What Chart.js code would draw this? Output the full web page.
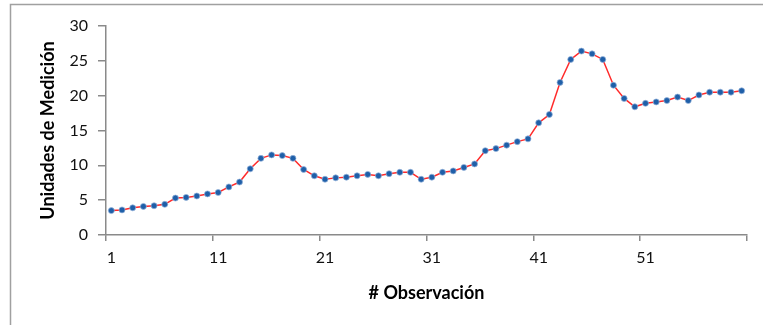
<!DOCTYPE html>
<html>
<head>
<meta charset="utf-8">
<script src="https://cdn.jsdelivr.net/npm/chart.js@4/dist/chart.umd.min.js"></script>
<style>
  html, body { margin: 0; padding: 0; background: #ffffff; }
  #wrap { position: relative; width: 763px; height: 325px; }
</style>
</head>
<body>
<div id="wrap"><canvas id="chart" width="763" height="325"></canvas></div>
<script>
// Observation numbers (categories)
const observaciones = [
  1, 2, 3, 4, 5, 6, 7, 8, 9, 10,
  11, 12, 13, 14, 15, 16, 17, 18, 19, 20,
  21, 22, 23, 24, 25, 26, 27, 28, 29, 30,
  31, 32, 33, 34, 35, 36, 37, 38, 39, 40,
  41, 42, 43, 44, 45, 46, 47, 48, 49, 50,
  51, 52, 53, 54, 55, 56, 57, 58, 59, 60
];

// Measured values for each observation
const mediciones = [
  3.5, 3.6, 3.9, 4.1, 4.2, 4.4, 5.3, 5.4, 5.6, 5.9,
  6.1, 6.9, 7.6, 9.5, 11.0, 11.5, 11.4, 11.0, 9.4, 8.5,
  8.0, 8.2, 8.3, 8.5, 8.7, 8.5, 8.8, 9.0, 9.0, 8.0,
  8.3, 9.0, 9.2, 9.7, 10.2, 12.1, 12.4, 12.9, 13.4, 13.8,
  16.1, 17.3, 21.9, 25.2, 26.4, 26.0, 25.2, 21.5, 19.6, 18.4,
  18.9, 19.1, 19.3, 19.8, 19.3, 20.1, 20.5, 20.5, 20.5, 20.7
];

// Category labels printed under the horizontal axis
const xTickLabels = ['1', '11', '21', '31', '41', '51'];

// Value axis ticks
const yTicks = [0, 5, 10, 15, 20, 25, 30];

const AXIS_GREY = '#8a8a8a';
const FONT = 'Lato, "Liberation Sans", sans-serif';

// Thin frame along the top and left of the figure
const framePlugin = {
  id: 'frame',
  beforeDraw(chart) {
    const ctx = chart.ctx;
    ctx.save();
    ctx.strokeStyle = '#a0a0a0';
    ctx.lineWidth = 1.5;
    ctx.beginPath();
    ctx.moveTo(10.5, chart.height + 5);
    ctx.lineTo(10.5, 4.5);
    ctx.lineTo(chart.width + 5, 4.5);
    ctx.stroke();
    ctx.restore();
  }
};

new Chart(document.getElementById('chart'), {
  type: 'line',
  data: {
    labels: observaciones.map(String),
    datasets: [{
      data: mediciones,
      borderColor: '#ff2b2b',
      borderWidth: 1.5,
      tension: 0,
      pointRadius: 3,
      pointBackgroundColor: '#1f5fa8',
      pointBorderColor: 'rgba(150,180,220,0.7)',
      pointBorderWidth: 1,
      fill: false
    }]
  },
  options: {
    responsive: false,
    animation: false,
    devicePixelRatio: 1,
    layout: { padding: { left: 0, right: 16, top: 26, bottom: 0 } },
    plugins: {
      legend: { display: false },
      tooltip: { enabled: false }
    },
    scales: {
      x: {
        type: 'category',
        offset: true,
        afterFit(scale) { scale.height = 90; },
        border: { display: true, color: AXIS_GREY, width: 1.5 },
        grid: {
          offset: true,
          drawOnChartArea: false,
          drawTicks: true,
          tickLength: 6,
          lineWidth: 1.5,
          color(ctx) {
            if (ctx.type !== 'tick') return AXIS_GREY;
            return ctx.index % 10 === 0 ? AXIS_GREY : 'rgba(0,0,0,0)';
          }
        },
        ticks: {
          autoSkip: false,
          maxRotation: 0,
          minRotation: 0,
          padding: 7,
          color: '#111111',
          font: { family: FONT, size: 16 },
          callback(value, index) {
            const lab = this.getLabelForValue(value);
            return xTickLabels.includes(lab) ? lab : '';
          }
        },
        title: {
          display: true,
          text: '# Observación',
          color: '#000000',
          font: { family: FONT, size: 18, weight: 'bold' },
          padding: { top: 4, bottom: 21 }
        }
      },
      y: {
        min: yTicks[0],
        max: yTicks[yTicks.length - 1],
        afterFit(scale) { scale.width = 106; },
        afterBuildTicks(scale) { scale.ticks = yTicks.map(v => ({ value: v })); },
        border: { display: true, color: AXIS_GREY, width: 1.5 },
        grid: {
          drawOnChartArea: false,
          drawTicks: true,
          tickLength: 8,
          lineWidth: 1.5,
          color: AXIS_GREY
        },
        ticks: {
          padding: 10,
          color: '#111111',
          font: { family: FONT, size: 16 }
        },
        title: {
          display: true,
          text: 'Unidades de Medición',
          color: '#000000',
          font: { family: FONT, size: 18, weight: 'bold' },
          padding: { top: 37, bottom: 4 }
        }
      }
    }
  },
  plugins: [framePlugin]
});
</script>
</body>
</html>
